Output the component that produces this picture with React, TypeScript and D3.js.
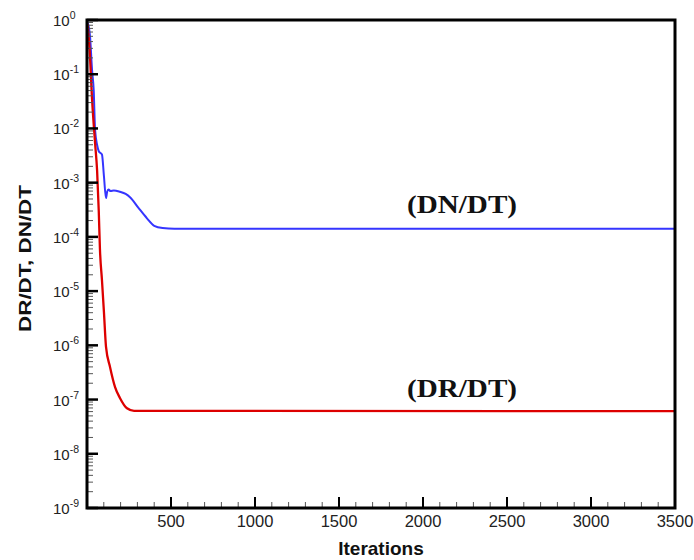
import * as d3 from "d3";

// convergence history: [iteration, residual]
const dnDt: [number, number][] = [
  [4, 0.9], [18, 0.5], [30, 0.12], [40, 0.05], [48, 0.0095], [60, 0.005],
  [70, 0.0038], [89, 0.0033], [101, 0.0013], [113, 0.00052], [120, 0.00068],
  [128, 0.00075], [140, 0.0007], [160, 0.00072], [196, 0.00068], [230, 0.00062],
  [256, 0.00054], [304, 0.00035], [357, 0.00022], [400, 0.00016], [450, 0.000146],
  [520, 0.000142], [3500, 0.000142],
];
const drDt: [number, number][] = [
  [3, 0.85], [15, 0.3], [30, 0.035], [48, 0.0054], [60, 0.0017], [70, 0.0003],
  [77, 0.00006], [89, 0.000016], [101, 0.000004], [113, 0.00000095],
  [137, 0.0000004], [167, 0.00000017], [196, 0.000000107], [238, 0.000000069],
  [280, 0.000000062], [3500, 0.000000061],
];
const xTicks = [500, 1000, 1500, 2000, 2500, 3000, 3500];
const yExps = [0, -1, -2, -3, -4, -5, -6, -7, -8, -9];
const labels = ["(DN/DT)", "(DR/DT)"];

export default function App() {
  const W = 694, H = 560;
  const m = { l: 87, r: 675, t: 20, b: 508 };

  const x = d3.scaleLinear().domain([0, 3500]).range([m.l, m.r]);
  const y = d3.scaleLog().domain([1e-9, 1]).range([m.b, m.t]);

  const line = d3
    .line<[number, number]>()
    .x((d) => x(d[0]))
    .y((d) => y(d[1]))
    .curve(d3.curveMonotoneX);

  const xMinor = d3.range(100, 3500, 100).filter((v) => v % 500 !== 0);
  const yMinor: number[] = [];
  yExps.slice(0, -1).forEach((e) => {
    for (let k = 2; k <= 9; k++) yMinor.push(k * Math.pow(10, e - 1));
  });

  return (
    <svg width={W} height={H} style={{ position: "absolute", left: 0, top: 0 }}>
      <rect width={W} height={H} fill="#fff" />

      {/* curves */}
      <path d={line(dnDt) ?? ""} fill="none" stroke="#3535ff" strokeWidth={2} />
      <path d={line(drDt) ?? ""} fill="none" stroke="#dd0000" strokeWidth={2.3} />

      {/* minor ticks */}
      {yMinor.map((v, i) => (
        <line key={"ym" + i} x1={m.l} x2={m.l + 6} y1={y(v)} y2={y(v)} stroke="#555" strokeWidth={1} />
      ))}
      {xMinor.map((v) => (
        <line key={"xm" + v} x1={x(v)} x2={x(v)} y1={m.b} y2={m.b - 6} stroke="#555" strokeWidth={1} />
      ))}
      {/* major ticks */}
      {yExps.map((e) => (
        <line key={"yM" + e} x1={m.l} x2={m.l + 11} y1={y(Math.pow(10, e))} y2={y(Math.pow(10, e))} stroke="#000" strokeWidth={2.5} />
      ))}
      {xTicks.map((v) => (
        <line key={"xM" + v} x1={x(v)} x2={x(v)} y1={m.b} y2={m.b - 11} stroke="#000" strokeWidth={2} />
      ))}

      {/* frame */}
      <rect x={m.l} y={m.t} width={m.r - m.l} height={m.b - m.t} fill="none" stroke="#000" strokeWidth={3} />

      {/* tick labels */}
      <g fontFamily="Liberation Sans, Arial, sans-serif" fill="#222">
        {yExps.map((e) => (
          <text key={"yl" + e} x={53} y={y(Math.pow(10, e)) + 6} fontSize={15}>
            10
            <tspan dy={-7} fontSize={10.5}>{e}</tspan>
          </text>
        ))}
        {xTicks.map((v) => (
          <text key={"xl" + v} x={x(v)} y={527} fontSize={16.5} textAnchor="middle">
            {v}
          </text>
        ))}
      </g>

      {/* axis titles */}
      <text x={(m.l + m.r) / 2} y={555} textAnchor="middle" fontFamily="Liberation Sans, Arial, sans-serif" fontWeight="bold" fontSize={19} fill="#111">
        Iterations
      </text>
      <text
        transform={`translate(31,${(185 + 332) / 2}) rotate(-90)`}
        textAnchor="middle"
        fontFamily="Liberation Sans, Arial, sans-serif"
        fontWeight="bold"
        fontSize={17}
        textLength={147}
        lengthAdjust="spacingAndGlyphs"
        fill="#111"
      >
        DR/DT, DN/DT
      </text>

      {/* curve labels */}
      <g fontFamily="Liberation Serif, Times New Roman, serif" fontWeight="bold" fontSize={25} fill="#111">
        <text x={407} y={213} textLength={110} lengthAdjust="spacingAndGlyphs">{labels[0]}</text>
        <text x={407} y={397} textLength={110} lengthAdjust="spacingAndGlyphs">{labels[1]}</text>
      </g>
    </svg>
  );
}
